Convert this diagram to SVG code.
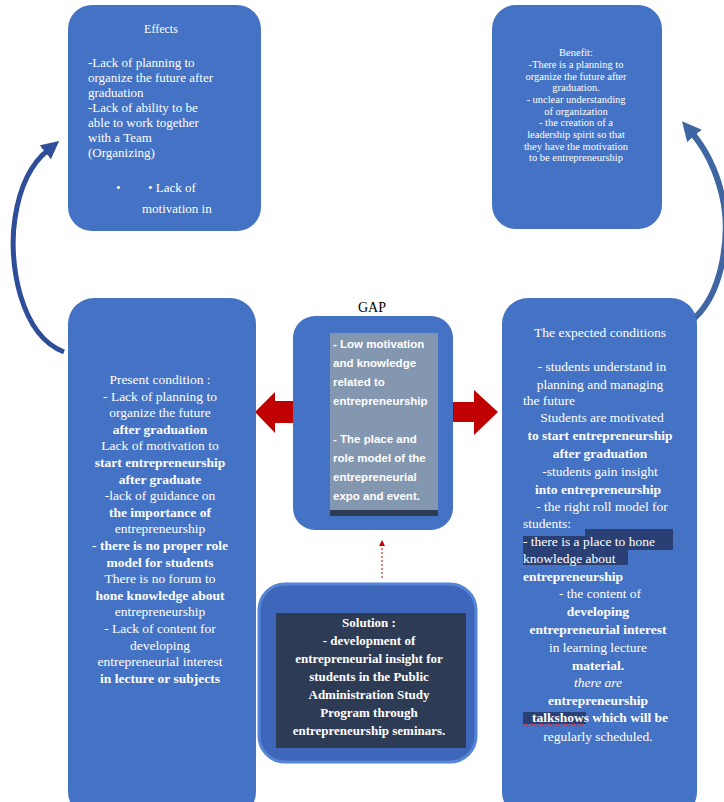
<svg xmlns="http://www.w3.org/2000/svg" width="724" height="802" viewBox="0 0 724 802">
<defs>
<style>
.box{fill:#4472C4;}
.t{font-family:"Liberation Serif","Times New Roman",serif;fill:#FFFFFF;}
.c{text-anchor:middle;}
.b{font-weight:bold;}
.s{font-family:"Liberation Sans",Arial,sans-serif;font-weight:bold;fill:#FFFFFF;font-size:11.5px;}
.red{fill:#C00000;}
.arc{fill:none;stroke-linecap:butt;}
</style>
<marker id="ahL" viewBox="0 0 10 10" refX="2" refY="5" markerWidth="3.6" markerHeight="3.6" orient="auto" markerUnits="strokeWidth"><path d="M0,0 L10,5 L0,10 z" fill="#2F4E99"/></marker>
<marker id="ahR" viewBox="0 0 10 10" refX="2" refY="5" markerWidth="3.2" markerHeight="3.2" orient="auto" markerUnits="strokeWidth"><path d="M0,0 L10,5 L0,10 z" fill="#3F66A3"/></marker>
<marker id="ahS" viewBox="0 0 10 10" refX="5" refY="5" markerWidth="6" markerHeight="6" orient="auto" markerUnits="userSpaceOnUse"><path d="M0,0 L10,5 L0,10 z" fill="#C00000"/></marker>
</defs>
<rect width="724" height="802" fill="#FFFFFF"/>

<g id="connectors">
<path class="arc" d="M 64 352 C 20 335, 8 262, 15 218 C 20 185, 32 163, 48 150" stroke="#2F4E99" stroke-width="5" marker-end="url(#ahL)"/>
<path class="arc" d="M 690 322 C 724 296, 731 232, 722 195 C 715 166, 703 146, 692 133" stroke="#3F66A3" stroke-width="6" marker-end="url(#ahR)"/>
<path class="red" d="M255,412 L275,392 L275,401 L296,401 L296,423 L275,423 L275,433 Z"/>
<path class="red" d="M452,402 L474,402 L474,390 L498,412 L474,435 L474,422 L452,422 Z"/>
<line x1="382" y1="578" x2="382" y2="543" stroke="#C00000" stroke-width="1" stroke-dasharray="2,2" marker-end="url(#ahS)"/>
</g>

<g id="effects">
<rect class="box" x="68" y="5" width="193" height="226" rx="24"/>
<text class="t c" x="161" y="33" font-size="12">Effects</text>
<g class="t" font-size="13">
<text x="88" y="67">-Lack of planning to</text>
<text x="88" y="82">organize the future after</text>
<text x="88" y="97">graduation</text>
<text x="88" y="112">-Lack of ability to be</text>
<text x="88" y="127">able to work together</text>
<text x="88" y="142">with a Team</text>
<text x="88" y="157">(Organizing)</text>
<text x="116" y="192">•</text>
<text x="148" y="192">• Lack of</text>
<text x="142" y="213">motivation in</text>
</g>
</g>

<g id="benefit">
<rect class="box" x="492" y="5" width="170" height="224" rx="24"/>
<g class="t c" font-size="10.5">
<text x="576" y="56">Benefit:</text>
<text x="576" y="68">-There is a planning to</text>
<text x="576" y="80">organize the future after</text>
<text x="576" y="91">graduation.</text>
<text x="576" y="103">- unclear understanding</text>
<text x="576" y="115">of organization</text>
<text x="576" y="126">- the creation of a</text>
<text x="576" y="138">leadership spirit so that</text>
<text x="576" y="150">they have the motivation</text>
<text x="576" y="161">to be entrepreneurship</text>
</g>
</g>

<g id="present">
<rect class="box" x="68" y="298" width="188" height="520" rx="26"/>
<g class="t c" font-size="13.5">
<text x="160" y="384">Present condition :</text>
<text x="160" y="400.6">- Lack of planning to</text>
<text x="160" y="417.2">organize the future</text>
<text x="160" y="433.8" class="b">after graduation</text>
<text x="160" y="450.4">Lack of motivation to</text>
<text x="160" y="467" class="b">start entrepreneurship</text>
<text x="160" y="483.6" class="b">after graduate</text>
<text x="160" y="500.2">-lack of guidance on</text>
<text x="160" y="516.8" class="b">the importance of</text>
<text x="160" y="533.4">entrepreneurship</text>
<text x="160" y="550" class="b">- there is no proper role</text>
<text x="160" y="566.6" class="b">model for students</text>
<text x="160" y="583.2">There is no forum to</text>
<text x="160" y="599.8" class="b">hone knowledge about</text>
<text x="160" y="616.4">entrepreneurship</text>
<text x="160" y="633">- Lack of content for</text>
<text x="160" y="649.6">developing</text>
<text x="160" y="666.2">entrepreneurial interest</text>
<text x="160" y="682.8" class="b">in lecture or subjects</text>
</g>
</g>

<g id="gap">
<text x="372" y="312" font-family="Liberation Serif,serif" font-size="14" text-anchor="middle" fill="#000000">GAP</text>
<rect class="box" x="293" y="316" width="160" height="214" rx="22" fill="#4A75C0"/>
<rect x="330" y="333" width="108" height="177" fill="#8497B0"/>
<rect x="330" y="510" width="108" height="6" fill="#2E3B55"/>
<text class="s" x="333" y="348">- Low motivation</text>
<text class="s" x="333" y="367">and knowledge</text>
<text class="s" x="333" y="386">related to</text>
<text class="s" x="333" y="405">entrepreneurship</text>
<text class="s" x="333" y="443">- The place and</text>
<text class="s" x="333" y="462">role model of the</text>
<text class="s" x="333" y="481">entrepreneurial</text>
<text class="s" x="333" y="500">expo and event.</text>
</g>

<g id="expected">
<rect class="box" x="502" y="298" width="195" height="520" rx="26"/>
<rect x="585" y="529" width="88" height="8" fill="#2A3F73"/>
<rect x="523" y="536" width="150" height="14" fill="#2A3F73"/>
<rect x="523" y="550" width="105" height="15" fill="#2A3F73"/>
<rect x="523" y="712" width="63" height="12" fill="#2A3F73"/>
<path d="M523,725 q2,-2 4,0 t4,0 t4,0 t4,0 t4,0 t4,0 t4,0 t4,0 t4,0 t4,0 t4,0 t4,0 t4,0 t4,0 t4,0" fill="none" stroke="#E03030" stroke-width="1"/>
<g class="t" font-size="13.5">
<text class="c" x="600" y="337">The expected conditions</text>
<text class="c" x="602" y="371">- students understand in</text>
<text class="c" x="600" y="389">planning and managing</text>
<text x="523" y="405">the future</text>
<text class="c" x="602" y="422">Students are motivated</text>
<text class="c b" x="600" y="440">to start entrepreneurship</text>
<text class="c b" x="600" y="458">after graduation</text>
<text class="c" x="600" y="476">-students gain insight</text>
<text class="c b" x="598" y="494">into entrepreneurship</text>
<text class="c" x="602" y="511">- the right roll model for</text>
<text x="523" y="528">students:</text>
<text x="523" y="546">- there is a place to hone</text>
<text x="523" y="563">knowledge about</text>
<text x="523" y="581" class="b">entrepreneurship</text>
<text class="c" x="600" y="598">- the content of</text>
<text class="c b" x="598" y="616">developing</text>
<text class="c b" x="598" y="634">entrepreneurial interest</text>
<text class="c" x="598" y="652">in learning lecture</text>
<text class="c b" x="598" y="670">material.</text>
<text class="c" x="598" y="687" font-style="italic">there are</text>
<text class="c b" x="598" y="705">entrepreneurship</text>
<text class="c b" x="600" y="722">talkshows which will be</text>
<text class="c" x="598" y="741">regularly scheduled.</text>
</g>
</g>

<g id="solution">
<rect x="259" y="584" width="217" height="178" rx="26" fill="#3E67BC" stroke="#5585D5" stroke-width="3"/>
<rect x="276" y="613" width="190" height="135" fill="#2E3B55"/>
<g class="t c b" font-size="13">
<text x="369" y="627">Solution :</text>
<text x="369" y="645">- development of</text>
<text x="369" y="663">entrepreneurial insight for</text>
<text x="369" y="681">students in the Public</text>
<text x="369" y="699">Administration Study</text>
<text x="369" y="717">Program through</text>
<text x="369" y="735">entrepreneurship seminars.</text>
</g>
</g>
</svg>
